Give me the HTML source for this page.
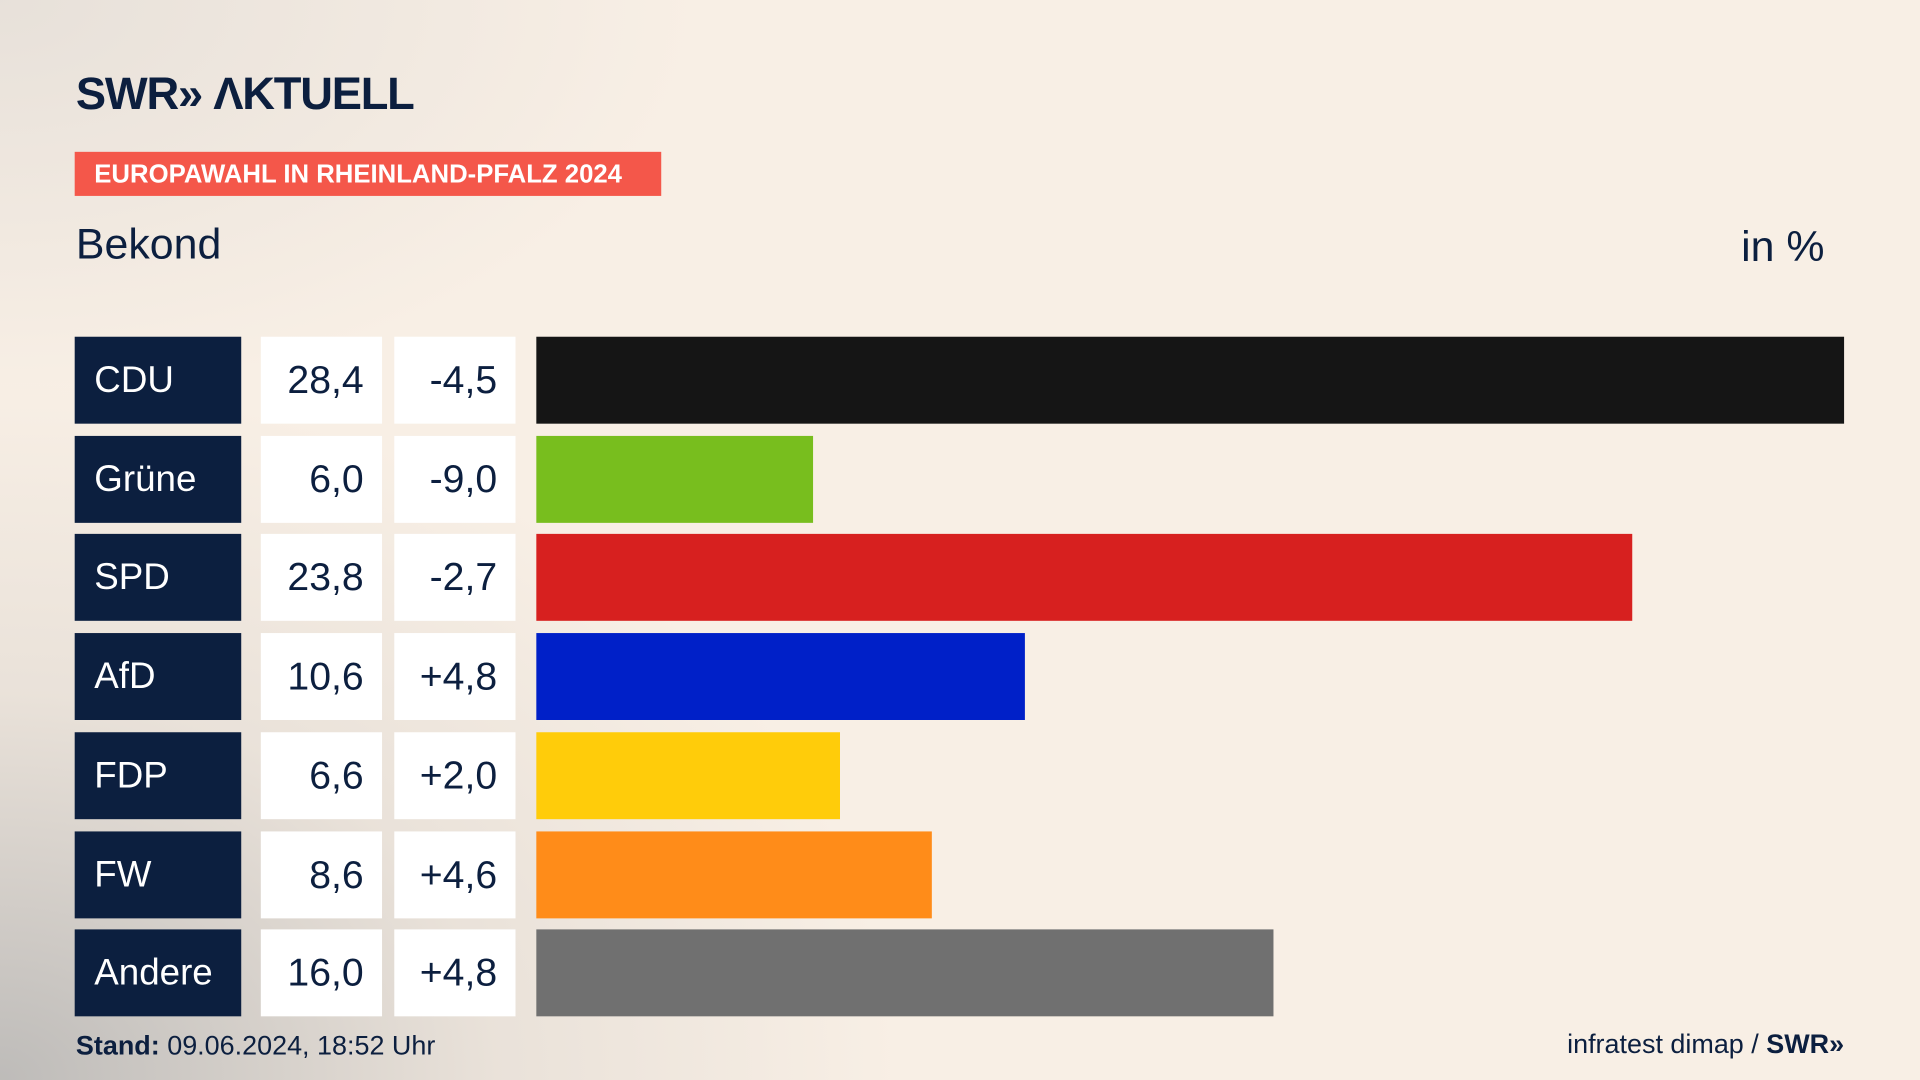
<!DOCTYPE html>
<html><head><meta charset="utf-8"><style>
html,body{margin:0;padding:0;width:1920px;height:1080px;overflow:hidden}
body{background:#f8efe5;font-family:"Liberation Sans","DejaVu Sans",sans-serif}
#bg{position:absolute;left:0;top:0;width:1920px;height:1080px;
background:radial-gradient(ellipse 900px 700px at 0px 1080px,rgba(170,170,170,0.75),rgba(200,195,190,0.3) 55%,rgba(248,239,229,0) 100%),
radial-gradient(ellipse 700px 400px at 0px 0px,rgba(220,215,210,0.6),rgba(248,239,229,0) 100%);}
#wrap{position:absolute;left:0;top:0;width:1568px;height:882px;transform:scale(1.22449);transform-origin:0 0}
.abs{position:absolute}
#logo{left:62px;top:56px;font-size:37px;font-weight:bold;color:#0c1f3f;letter-spacing:-1px}
#tag{left:61px;top:124px;width:479px;height:36px;background:#f4574a;color:#fff;font-weight:bold;font-size:21px;line-height:37px;text-indent:16px}
#sub{left:62px;top:180px;font-size:35px;color:#0c1f3f}
#unit{right:78px;top:182px;font-size:35px;color:#0c1f3f}
.lab{background:#0c1f3f;color:#fff;font-size:30px;box-sizing:border-box;padding-left:16px}
.val{background:#fff;color:#0c1f3f;font-size:32px;text-align:right;box-sizing:border-box;padding-right:15px}
#foot{left:62px;top:841px;font-size:22px;color:#0c1f3f}
#src{right:62px;top:840px;font-size:22px;color:#0c1f3f}
</style></head><body>
<div id="bg"></div>
<div id="wrap">
<div id="logo" class="abs">SWR» ΛKTUELL</div>
<div id="tag" class="abs">EUROPAWAHL IN RHEINLAND-PFALZ 2024</div>
<div id="sub" class="abs">Bekond</div>
<div id="unit" class="abs">in %</div>
<div id="rows"></div>
<div id="foot" class="abs"><b>Stand:</b> 09.06.2024, 18:52 Uhr</div>
<div id="src" class="abs">infratest dimap / <b>SWR»</b></div>
</div>
<script>
const parties=["CDU","Grüne","SPD","AfD","FDP","FW","Andere"];
const shares=[28.4,6.0,23.8,10.6,6.6,8.6,16.0];
const changes=[-4.5,-9.0,-2.7,4.8,2.0,4.6,4.8];
const colors=["#151515","#78be1e","#d7201f","#0020c8","#ffcc0a","#ff8c19","#707070"];
const x0=438,pxPer=1068/28.4,top0=275,pitch=80.7,h=71;
const fmt=v=>v.toFixed(1).replace(".",",");
const rows=document.getElementById("rows");
function box(cls,l,t,w,txt){const d=document.createElement("div");d.className="abs "+cls;
d.style.cssText=`left:${l}px;top:${t}px;width:${w}px;height:${h}px;line-height:${h}px`;d.textContent=txt;rows.appendChild(d);return d;}
parties.forEach((p,i)=>{
const t=top0+i*pitch;
const a=box("lab",61,t,136,p);


const b=box("val",213,t,99,fmt(shares[i]));


const c=box("val",322,t,99,(changes[i]>0?"+":"")+fmt(changes[i]));


const r=box("",x0,t,shares[i]*pxPer,"");
r.style.background=colors[i];


});
</script>
</body></html>
